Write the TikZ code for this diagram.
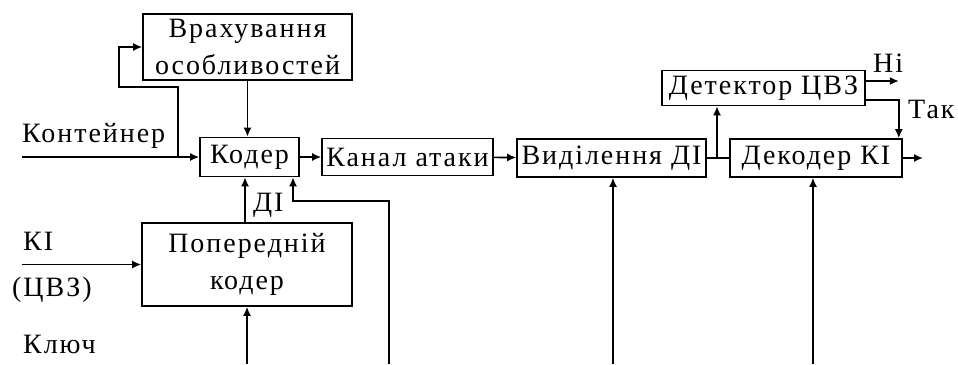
\documentclass[tikz,border=0pt]{standalone}
\usepackage{fontspec}
\newfontfamily\blkserif{Liberation Serif}[LetterSpace=7]
\usetikzlibrary{arrows.meta,positioning,calc}
\newcommand{\blkfont}{\blkserif\fontsize{28}{37}\selectfont}
\tikzset{
  blok/.style={draw, line width=1.6pt, inner sep=0pt, align=center, font=\blkfont},
  lbl/.style={inner sep=0pt, font=\blkfont},
  arr/.style={-{Latex[length=9pt,width=8pt]}, line width=1.6pt},
  ln/.style={line width=1.6pt}}

\begin{document}
\begin{tikzpicture}[x=1pt, y=-1pt]
  \useasboundingbox (0,0) rectangle (958,364);
  % blocks
  \node[blok, minimum width=209pt, minimum height=66pt] (vrakh) at (247.5,47) {Врахування\\особливостей};
  \node[blok, minimum width=99pt, minimum height=39pt] (koder) at (249.5,157) {Кодер};
  \node[blok, minimum width=171pt, minimum height=37pt] (kanal) at (407.5,157) {Канал атаки};
  \node[blok, minimum width=189pt, minimum height=38pt] (vydil) at (611.5,158) {Виділення ДІ};
  \node[blok, minimum width=203pt, minimum height=35pt] (detektor) at (763.5,88) {Детектор ЦВЗ};
  \node[blok, minimum width=172pt, minimum height=38pt] (dekoder) at (816,158) {Декодер КІ};
  \node[blok, minimum width=210pt, minimum height=83pt] (poper) at (247,264.5) {Попередній\\кодер};
  % free ends
  \coordinate (kont) at (22,157);
  \coordinate (vidg) at (178,157);
  \coordinate (ki) at (22,264.5);
  \coordinate (kl) at (247,364);
  \coordinate (at1) at (389,364);
  \coordinate (zg) at (293,201);
  \coordinate (v1) at (613,364);
  \coordinate (d1) at (813,364);
  \coordinate (rozg) at (717,158);
  \coordinate (vyh) at (923,158);
  % connectors
  \draw[arr] (kont) -- (koder.west);
  \draw[arr] (vidg) |- (119,87) |- (vrakh.west);
  \draw[arr] (vrakh.south) -- (vrakh.south |- koder.north);
  \draw[arr] (koder) -- (kanal);
  \draw[arr] (kanal) -- (vydil);
  \draw[ln] (vydil) -- (dekoder);
  \draw[arr] (rozg) -- (rozg |- detektor.south);
  \draw[arr] ([yshift=7pt]detektor.east) -- ++(33,0);
  \draw[arr] ([yshift=-12pt]detektor.east) -| ([xshift=-4pt]dekoder.north east);
  \draw[arr] (dekoder) -- (vyh);
  \draw[arr] (ki) -- (poper.west);
  \draw[arr] (kl) -- (poper.south);
  \draw[arr] ([xshift=-2pt]poper.north) -- ([xshift=-2pt]poper.north |- koder.south);
  \draw[arr] (at1) |- (zg) -- (zg |- koder.south);
  \draw[arr] (v1) -- (v1 |- vydil.south);
  \draw[arr] (d1) -- (d1 |- dekoder.south);
  % labels
  \node[lbl, anchor=base west] (kontl) at (22,142) {Контейнер};
  \node[lbl, anchor=base west] (dil) at (253,211) {ДІ};
  \node[lbl, anchor=base west] (kil) at (23,250) {КІ};
  \node[lbl, anchor=base west] (cvzl) at (12,296) {(ЦВЗ)};
  \node[lbl, anchor=base west] (klyuch) at (23,353) {Ключ};
  \node[lbl, anchor=base west] (nil) at (873,72) {Ні};
  \node[lbl, anchor=base west] (takl) at (908,118) {Так};
\end{tikzpicture}
\end{document}
